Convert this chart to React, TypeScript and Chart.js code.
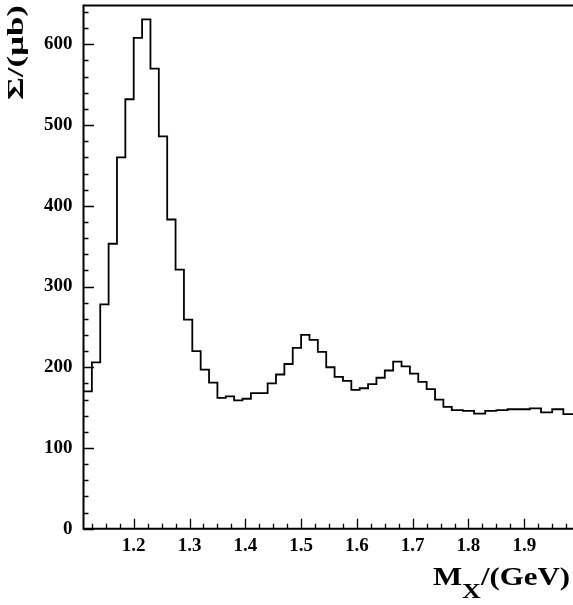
import React, { useEffect, useRef } from "react";
import { Chart, registerables } from "chart.js";

Chart.register(...registerables);

// Histogram bin edges (GeV) and bin contents (µb)
const BIN_EDGES = [
  1.11, 1.125, 1.14, 1.155, 1.17, 1.185, 1.2, 1.215, 1.23, 1.245,
  1.26, 1.275, 1.29, 1.305, 1.32, 1.335, 1.35, 1.365, 1.38, 1.395,
  1.41, 1.425, 1.44, 1.455, 1.47, 1.485, 1.5, 1.515, 1.53, 1.545,
  1.56, 1.575, 1.59, 1.605, 1.62, 1.635, 1.65, 1.665, 1.68, 1.695,
  1.71, 1.725, 1.74, 1.755, 1.77, 1.79, 1.81, 1.83, 1.85, 1.87,
  1.89, 1.91, 1.93, 1.95, 1.97, 1.99,
];
const BIN_VALUES = [
  170, 206, 278, 353, 460, 532, 608, 631, 570, 486,
  383, 321, 259, 220, 197, 181, 162, 164, 159, 161,
  168, 168, 180, 191, 204, 224, 240, 234, 219, 200,
  188, 183, 172, 174, 179, 187, 196, 207, 201, 192,
  182, 173, 160, 151, 147, 146, 142.5, 146, 147, 148,
  148, 149, 144, 148, 142,
];

const X_TICKS = [1.2, 1.3, 1.4, 1.5, 1.6, 1.7, 1.8, 1.9];
const Y_TICKS = [0, 100, 200, 300, 400, 500, 600];
const X_MIN = 1.11;
const X_MAX = 1.9873;
const Y_MIN = 0;
const Y_MAX = 648;
const X_MINOR_STEP = 0.025;
const Y_MINOR_STEP = 20;

const Y_TITLE = "Σ/(μb)";
const X_TITLE_MAIN = "M";
const X_TITLE_SUB = "X";
const X_TITLE_REST = "/(GeV)";

const FONT_FAMILY = "'Liberation Serif', 'Times New Roman', serif";

const framePlugin = {
  id: "rootFrame",
  afterDatasetsDraw(chart: any) {
    const { ctx, chartArea, scales } = chart;
    const xs = scales.x;
    const ys = scales.y;
    const { left, right, top, bottom } = chartArea;
    ctx.save();
    ctx.strokeStyle = "#000";
    // ticks (inward)
    ctx.lineWidth = 1.3;
    ctx.beginPath();
    for (let i = 0; ; i++) {
      const v = 1.1 + i * X_MINOR_STEP;
      if (v > X_MAX + 1e-9) break;
      if (v < X_MIN - 1e-9) continue;
      const major = X_TICKS.some((t) => Math.abs(t - v) < 1e-6);
      const px = Math.round(xs.getPixelForValue(v)) + 0.5;
      ctx.moveTo(px, bottom);
      ctx.lineTo(px, bottom - (major ? 10 : 5));
    }
    for (let i = 0; ; i++) {
      const v = Y_MIN + i * Y_MINOR_STEP;
      if (v > Y_MAX + 1e-9) break;
      const major = Y_TICKS.some((t) => Math.abs(t - v) < 1e-6);
      const py = Math.round(ys.getPixelForValue(v)) + 0.5;
      ctx.moveTo(left, py);
      ctx.lineTo(left + (major ? 10.5 : 5), py);
    }
    ctx.stroke();
    // frame
    ctx.lineWidth = 2;
    ctx.beginPath();
    ctx.moveTo(right + 2, top);
    ctx.lineTo(left, top);
    ctx.lineTo(left, bottom);
    ctx.lineTo(right + 2, bottom);
    ctx.stroke();

    // Y title (rotated)
    ctx.fillStyle = "#000";
    ctx.font = `bold 24px ${FONT_FAMILY}`;
    const yw = ctx.measureText(Y_TITLE).width;
    const yScale = 95 / yw;
    ctx.save();
    ctx.translate(23, 5);
    ctx.rotate(-Math.PI / 2);
    ctx.scale(yScale, 1);
    ctx.textAlign = "right";
    ctx.textBaseline = "alphabetic";
    ctx.fillText(Y_TITLE, 0, 0);
    ctx.restore();

    // X title with subscript
    const mainFont = `bold 26px ${FONT_FAMILY}`;
    const subFont = `bold 22px ${FONT_FAMILY}`;
    ctx.font = mainFont;
    const wM = ctx.measureText(X_TITLE_MAIN).width;
    const wR = ctx.measureText(X_TITLE_REST).width;
    ctx.font = subFont;
    const wX = ctx.measureText(X_TITLE_SUB).width;
    const natural = wM + wX + wR;
    const sx = 137 / natural;
    ctx.save();
    ctx.translate(570 - 137, 585);
    ctx.scale(sx, 1);
    ctx.textAlign = "left";
    ctx.textBaseline = "alphabetic";
    ctx.font = mainFont;
    ctx.fillText(X_TITLE_MAIN, 0, 0);
    ctx.font = subFont;
    ctx.fillText(X_TITLE_SUB, wM, 13);
    ctx.font = mainFont;
    ctx.fillText(X_TITLE_REST, wM + wX, 0);
    ctx.restore();
    ctx.restore();
  },
};

function zeroPadding(scale: any) {
  scale.paddingTop = 0;
  scale.paddingBottom = 0;
  scale.paddingLeft = 0;
  scale.paddingRight = 0;
}

export default function App() {
  const canvasRef = useRef<HTMLCanvasElement | null>(null);

  useEffect(() => {
    const canvas = canvasRef.current;
    if (!canvas) return;
    const points = BIN_VALUES.map((v, i) => ({ x: BIN_EDGES[i], y: v }));
    points.push({
      x: BIN_EDGES[BIN_EDGES.length - 1],
      y: BIN_VALUES[BIN_VALUES.length - 1],
    });

    const tickFont = { family: FONT_FAMILY, size: 19, weight: "bold" as const, lineHeight: 1.2 };

    const chart = new Chart(canvas, {
      type: "line",
      data: {
        datasets: [
          {
            data: points,
            stepped: "before",
            borderColor: "#000",
            borderWidth: 1.8,
            pointRadius: 0,
            fill: false,
          },
        ],
      },
      options: {
        animation: false,
        responsive: false,
        devicePixelRatio: 1,
        events: [],
        layout: { padding: { top: 5.6, left: 0, right: 0, bottom: 0 } },
        plugins: {
          legend: { display: false },
          tooltip: { enabled: false },
          title: { display: false },
        },
        scales: {
          x: {
            type: "linear",
            min: X_MIN,
            max: X_MAX,
            grid: { display: false, drawTicks: false },
            border: { display: false },
            afterBuildTicks: (scale: any) => {
              scale.ticks = X_TICKS.map((v) => ({ value: v }));
            },
            afterFit: (scale: any) => {
              scale.height = 76.3;
              zeroPadding(scale);
            },
            ticks: {
              color: "#000",
              font: tickFont,
              padding: 5.5,
              maxRotation: 0,
              autoSkip: false,
              callback: (v: any) => Number(v).toFixed(1),
            },
          },
          y: {
            type: "linear",
            min: Y_MIN,
            max: Y_MAX,
            grid: { display: false, drawTicks: false },
            border: { display: false },
            afterBuildTicks: (scale: any) => {
              scale.ticks = Y_TICKS.map((v) => ({ value: v }));
            },
            afterFit: (scale: any) => {
              scale.width = 83.5;
              zeroPadding(scale);
            },
            ticks: {
              color: "#000",
              font: tickFont,
              padding: 11,
              autoSkip: false,
              callback: (v: any) => String(v),
            },
          },
        },
      },
      plugins: [framePlugin],
    });
    return () => chart.destroy();
  }, []);

  return (
    <div style={{ position: "fixed", left: 0, top: 0, width: 573, height: 605, background: "#fff" }}>
      <canvas ref={canvasRef} width={573} height={605} style={{ display: "block" }} />
    </div>
  );
}
